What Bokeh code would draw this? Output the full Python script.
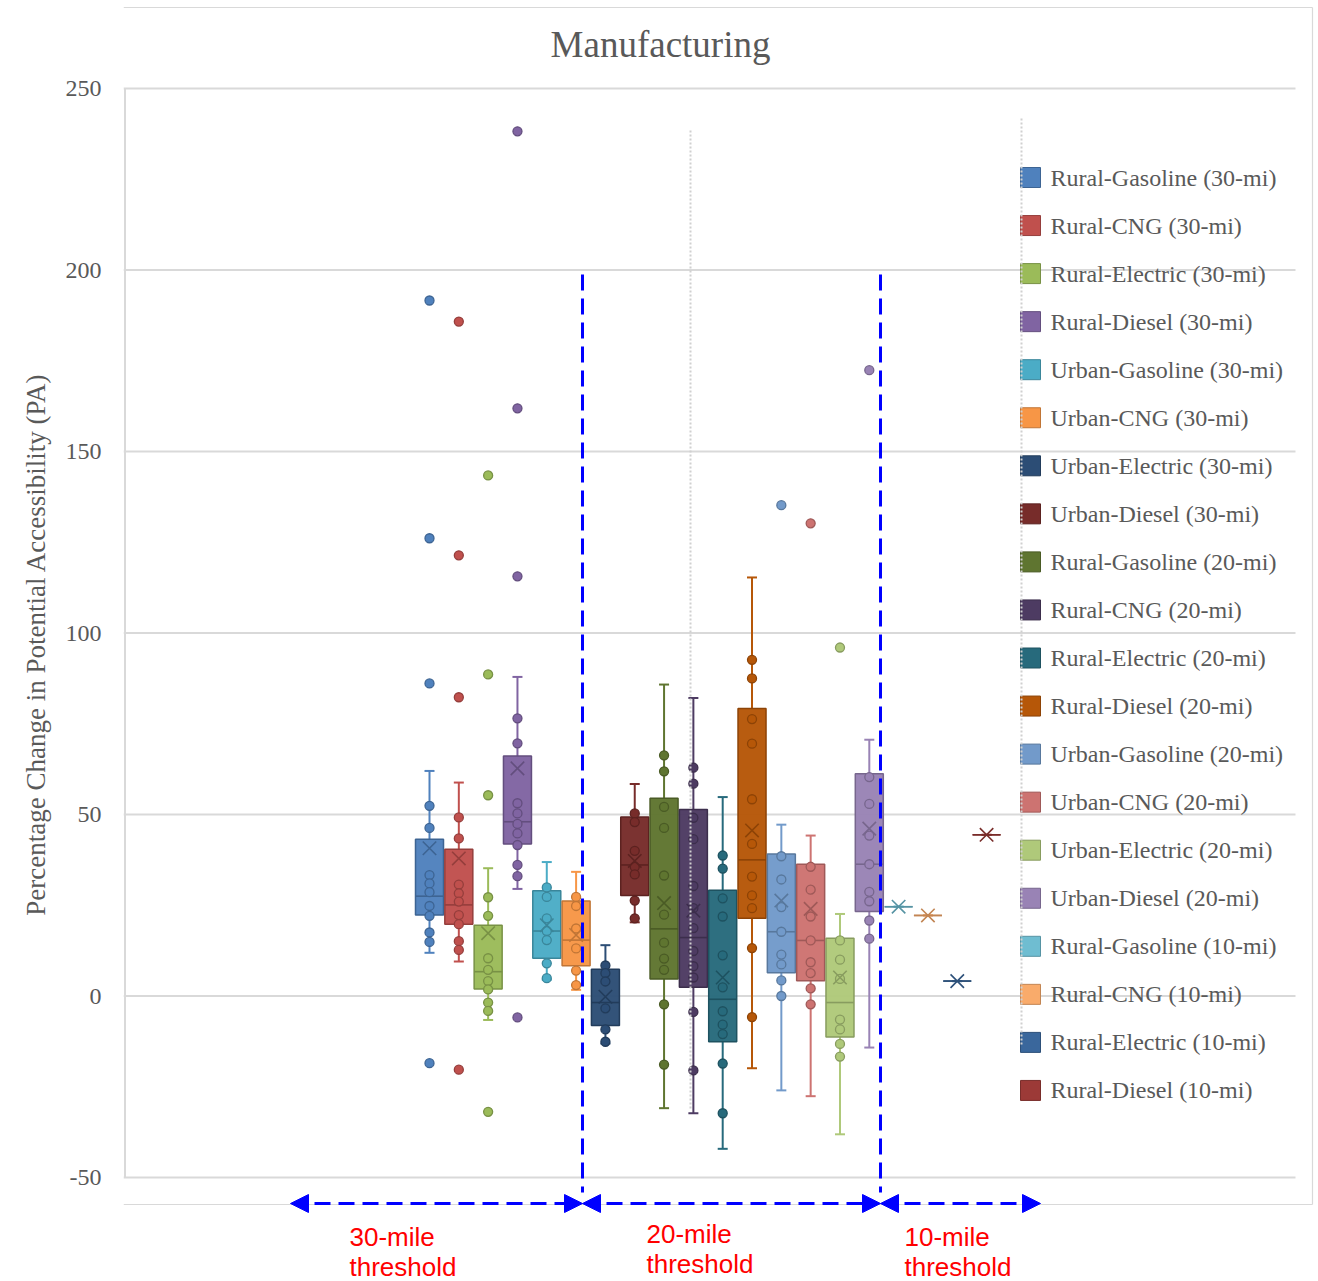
import numpy as np
from bokeh.plotting import figure
from bokeh.models import Range1d, FixedTicker, Arrow, NormalHead
from bokeh.core.properties import value
from bokeh.embed import file_html
from bokeh.resources import INLINE

# ---------------- data ----------------
series_names = [
    "Rural-Gasoline (30-mi)", "Rural-CNG (30-mi)", "Rural-Electric (30-mi)", "Rural-Diesel (30-mi)",
    "Urban-Gasoline (30-mi)", "Urban-CNG (30-mi)", "Urban-Electric (30-mi)", "Urban-Diesel (30-mi)",
    "Rural-Gasoline (20-mi)", "Rural-CNG (20-mi)", "Rural-Electric (20-mi)", "Rural-Diesel (20-mi)",
    "Urban-Gasoline (20-mi)", "Urban-CNG (20-mi)", "Urban-Electric (20-mi)", "Urban-Diesel (20-mi)",
    "Rural-Gasoline (10-mi)", "Rural-CNG (10-mi)", "Rural-Electric (10-mi)", "Rural-Diesel (10-mi)",
]
series_colors = [
    "#4F81BD", "#C0504D", "#9BBB59", "#8064A2", "#4BACC6", "#F79646", "#2C4D75", "#772C2A",
    "#5F7530", "#4D3B62", "#276A7C", "#B65708", "#729ACA", "#CD7371", "#AFC97A", "#9983B5",
    "#6FBDD1", "#F9AB6B", "#3A679C", "#9C3A37",
]
whisker_low = [11.9, 9.5, -6.6, 29.5, 4.5, 1.7, -13.1, 20.3,
               -30.9, -32.3, -42.1, -19.9, -26.0, -27.6, -38.1, -14.2,
               24.6, 22.2, 4.1, 44.4]
q1 = [22.3, 19.8, 1.9, 41.9, 10.4, 8.3, -8.1, 27.7,
      4.7, 2.4, -12.6, 21.4, 6.4, 4.2, -11.3, 23.3,
      24.6, 22.2, 4.1, 44.4]
median = [27.5, 25.1, 6.7, 48.0, 17.9, 15.4, -1.8, 36.1,
          18.5, 16.1, -0.9, 37.5, 17.7, 15.3, -1.8, 36.3,
          24.6, 22.2, 4.1, 44.4]
q3 = [43.2, 40.4, 19.5, 66.1, 29.0, 26.2, 7.4, 49.3,
      54.5, 51.4, 29.1, 79.2, 39.1, 36.3, 15.9, 61.2,
      24.6, 22.2, 4.1, 44.4]
whisker_high = [62.0, 58.8, 35.2, 87.9, 36.9, 34.2, 14.0, 58.4,
                85.8, 82.1, 54.8, 115.3, 47.2, 44.2, 22.6, 70.6,
                24.6, 22.2, 4.1, 44.4]
means = [40.7, 37.9, 17.3, 62.7, 19.5, 16.8, -0.2, 37.2,
         25.6, 23.5, 5.1, 45.6, 26.3, 24.0, 5.1, 46.1,
         24.6, 22.2, 4.1, 44.4]
points = [
    [191.6, 126.1, 86.1, 52.4, 46.3, 33.3, 31.0, 28.6, 24.8, 22.1, 17.5, 14.9, -18.5],
    [185.8, 121.4, 82.3, 49.2, 43.4, 30.7, 28.3, 26.0, 22.3, 19.8, 15.1, 12.7, -20.3],
    [143.4, 88.6, 55.3, 27.2, 22.1, 10.4, 7.2, 4.1, 1.8, -1.8, -4.1, -31.9],
    [238.2, 161.9, 115.6, 76.5, 69.6, 53.1, 50.3, 47.4, 44.8, 41.6, 36.1, 33.0, -5.9],
    [29.9, 27.3, 21.4, 17.9, 15.4, 9.0, 4.9],
    [27.3, 24.8, 18.6, 13.1, 7.0, 3.0],
    [8.4, 6.3, 4.0, -3.4, -9.2, -12.6],
    [50.3, 47.9, 40.0, 35.6, 33.5, 26.3, 21.4],
    [66.3, 61.9, 52.1, 46.3, 33.2, 22.4, 14.7, 10.3, 7.2, -2.3, -18.9],
    [62.9, 58.5, 49.1, 43.2, 30.3, 24.2, 18.7, 12.4, 8.2, 5.1, -4.4, -20.5],
    [38.7, 35.1, 26.9, 21.9, 11.2, 2.4, -4.2, -7.9, -10.5, -18.6, -32.3],
    [92.6, 87.5, 76.3, 69.5, 54.2, 41.9, 32.9, 27.7, 24.2, 13.2, -5.8],
    [135.2, 38.5, 32.1, 24.5, 17.7, 11.4, 8.7, 4.3, 0.0],
    [130.2, 35.6, 29.3, 21.9, 15.3, 9.3, 6.3, 2.1, -2.3],
    [96.0, 15.3, 10.0, 4.7, -6.5, -9.2, -13.2, -16.7],
    [172.4, 60.3, 52.9, 44.2, 36.3, 28.7, 26.1, 20.8, 15.8],
    [], [], [], [],
]
y_ticks = [-50, 0, 50, 100, 150, 200, 250]
y_tick_labels = ["-50", "0", "50", "100", "150", "200", "250"]
threshold_top = ["30-mile", "20-mile", "10-mile"]
threshold_bottom = ["threshold", "threshold", "threshold"]
title_text = "Manufacturing"
y_label = "Percentage Change in Potential Accessibility  (PA)"

# ---------------- layout helpers ----------------
W, H = 1318, 1281
FRAME_L, FRAME_R = 123, 1314
PX_UNIT = 29.32          # pixels per series slot
X0_PX = 429.0            # pixel position of first series
Y_TOP_PX, Y_BOT_PX = 88.0, 1177.0
PX_PER_VAL = (Y_BOT_PX - Y_TOP_PX) / 300.0


def xd(px):
    return (px - X0_PX) / PX_UNIT


def yd(py):
    return 250.0 - (py - Y_TOP_PX) / PX_PER_VAL


def darker(hx, f=0.78):
    hx = hx.lstrip("#")
    r, g, b = (int(hx[i:i + 2], 16) for i in (0, 2, 4))
    return "#%02x%02x%02x" % (int(r * f), int(g * f), int(b * f))


SERIF = value("Liberation Serif")
SANS = value("Liberation Sans")
GRAY_TXT = "#595959"
GRID = "#d9d9d9"
BLUE = "#0000FF"

p = figure(width=W, height=H,
           x_range=Range1d(xd(FRAME_L), xd(FRAME_R)),
           y_range=Range1d(yd(H), yd(0)),
           x_axis_type=None, output_backend="svg", toolbar_location=None,
           min_border_left=FRAME_L, min_border_right=W - FRAME_R,
           min_border_top=0, min_border_bottom=0, outline_line_color=None)
p.grid.visible = False

ax = p.yaxis[0]
ax.ticker = FixedTicker(ticks=y_ticks)
ax.major_label_overrides = {t: s for t, s in zip(y_ticks, y_tick_labels)}
ax.axis_line_color = None
ax.major_tick_line_color = None
ax.minor_tick_line_color = None
ax.major_label_standoff = 16
ax.major_label_text_font = "Liberation Serif"
ax.major_label_text_font_size = "24px"
ax.major_label_text_color = GRAY_TXT
ax.axis_label = y_label
ax.axis_label_text_font = "Liberation Serif"
ax.axis_label_text_font_size = "27px"
ax.axis_label_text_font_style = "normal"
ax.axis_label_text_color = GRAY_TXT
ax.axis_label_standoff = 12

# outer chart border (visible parts)
p.segment(x0=[xd(FRAME_L), xd(1312), xd(FRAME_L)], y0=[yd(7), yd(7), yd(1204)],
          x1=[xd(1312), xd(1312), xd(1312)], y1=[yd(7), yd(1204), yd(1204)],
          line_color=GRID, line_width=1.2)

# gridlines and vertical axis line
p.segment(x0=[xd(FRAME_L)] * len(y_ticks), y0=y_ticks, x1=[xd(1295)] * len(y_ticks), y1=y_ticks,
          line_color=GRID, line_width=2)
p.segment(x0=[xd(124.5)], y0=[y_ticks[0]], x1=[xd(124.5)], y1=[y_ticks[-1]],
          line_color=GRID, line_width=2)

# title
p.text(x=[xd(660)], y=[yd(44)], text=[title_text], text_font=SERIF, text_font_size="37px",
       text_color=GRAY_TXT, text_align="center", text_baseline="middle")

# ---------------- box plots ----------------
n = len(series_names)
xs = np.arange(n, dtype=float)
dark = [darker(c) for c in series_colors]
bw = 28.0 / PX_UNIT
cap = 10.0 / PX_UNIT

p.segment(x0=xs, y0=whisker_low, x1=xs, y1=q1, line_color=series_colors, line_width=2)
p.segment(x0=xs, y0=q3, x1=xs, y1=whisker_high, line_color=series_colors, line_width=2)
p.segment(x0=xs - cap / 2, y0=whisker_low, x1=xs + cap / 2, y1=whisker_low, line_color=series_colors, line_width=2)
p.segment(x0=xs - cap / 2, y0=whisker_high, x1=xs + cap / 2, y1=whisker_high, line_color=series_colors, line_width=2)

p.quad(left=xs - bw / 2, right=xs + bw / 2, bottom=q1, top=q3,
       fill_color=series_colors, fill_alpha=0.97, line_color=dark, line_width=1.5)
p.segment(x0=xs - bw / 2, y0=median, x1=xs + bw / 2, y1=median, line_color=dark, line_width=1.6)

px_, py_, pc_, pl_ = [], [], [], []
for i, pts in enumerate(points):
    for v in pts:
        px_.append(xs[i]); py_.append(v); pc_.append(series_colors[i]); pl_.append(dark[i])
p.scatter(x=px_, y=py_, marker="circle", size=9, fill_color=pc_, line_color=pl_, line_width=1.3)

p.scatter(x=xs, y=means, marker="x", size=19, line_color=dark, line_width=1.6)

# ---------------- legend ----------------
leg_y = [yd(177 + 48.05 * i) for i in range(n)]
p.rect(x=[xd(1030)] * n, y=leg_y, width=20, height=20, width_units="screen", height_units="screen",
       fill_color=series_colors, line_color=dark, line_width=1)
p.text(x=[xd(1050)] * n, y=leg_y, text=series_names, text_font=SERIF, text_font_size="24px",
       text_color=GRAY_TXT, text_align="left", text_baseline="middle")

# dotted light vertical lines
p.segment(x0=[xd(690), xd(1021)], y0=[yd(130), yd(118)], x1=[xd(690), xd(1021)], y1=[yd(1110), yd(1045)],
          line_color="#d0d0d0", line_width=2, line_dash="2 2")

# ---------------- threshold annotations ----------------
p.segment(x0=[xd(582), xd(880)], y0=[yd(274), yd(274)], x1=[xd(582), xd(880)], y1=[yd(1192), yd(1192)],
          line_color=BLUE, line_width=3, line_dash="16 8")

for a, b in [(290, 582), (582, 880), (880, 1040)]:
    p.add_layout(Arrow(start=NormalHead(size=18, fill_color=BLUE, line_color=BLUE),
                       end=NormalHead(size=18, fill_color=BLUE, line_color=BLUE),
                       x_start=xd(a), y_start=yd(1203), x_end=xd(b), y_end=yd(1203),
                       line_color=BLUE, line_width=3, line_dash="16 8"))

lab_x = [xd(349), xd(646), xd(904)]
p.text(x=lab_x, y=[yd(1236), yd(1233), yd(1236)], text=threshold_top, text_font=SANS,
       text_font_size="26px", text_color="#FF0000", text_align="left", text_baseline="middle")
p.text(x=lab_x, y=[yd(1266), yd(1263), yd(1266)], text=threshold_bottom, text_font=SANS,
       text_font_size="26px", text_color="#FF0000", text_align="left", text_baseline="middle")

open("out.html", "w").write(file_html(p, INLINE))
